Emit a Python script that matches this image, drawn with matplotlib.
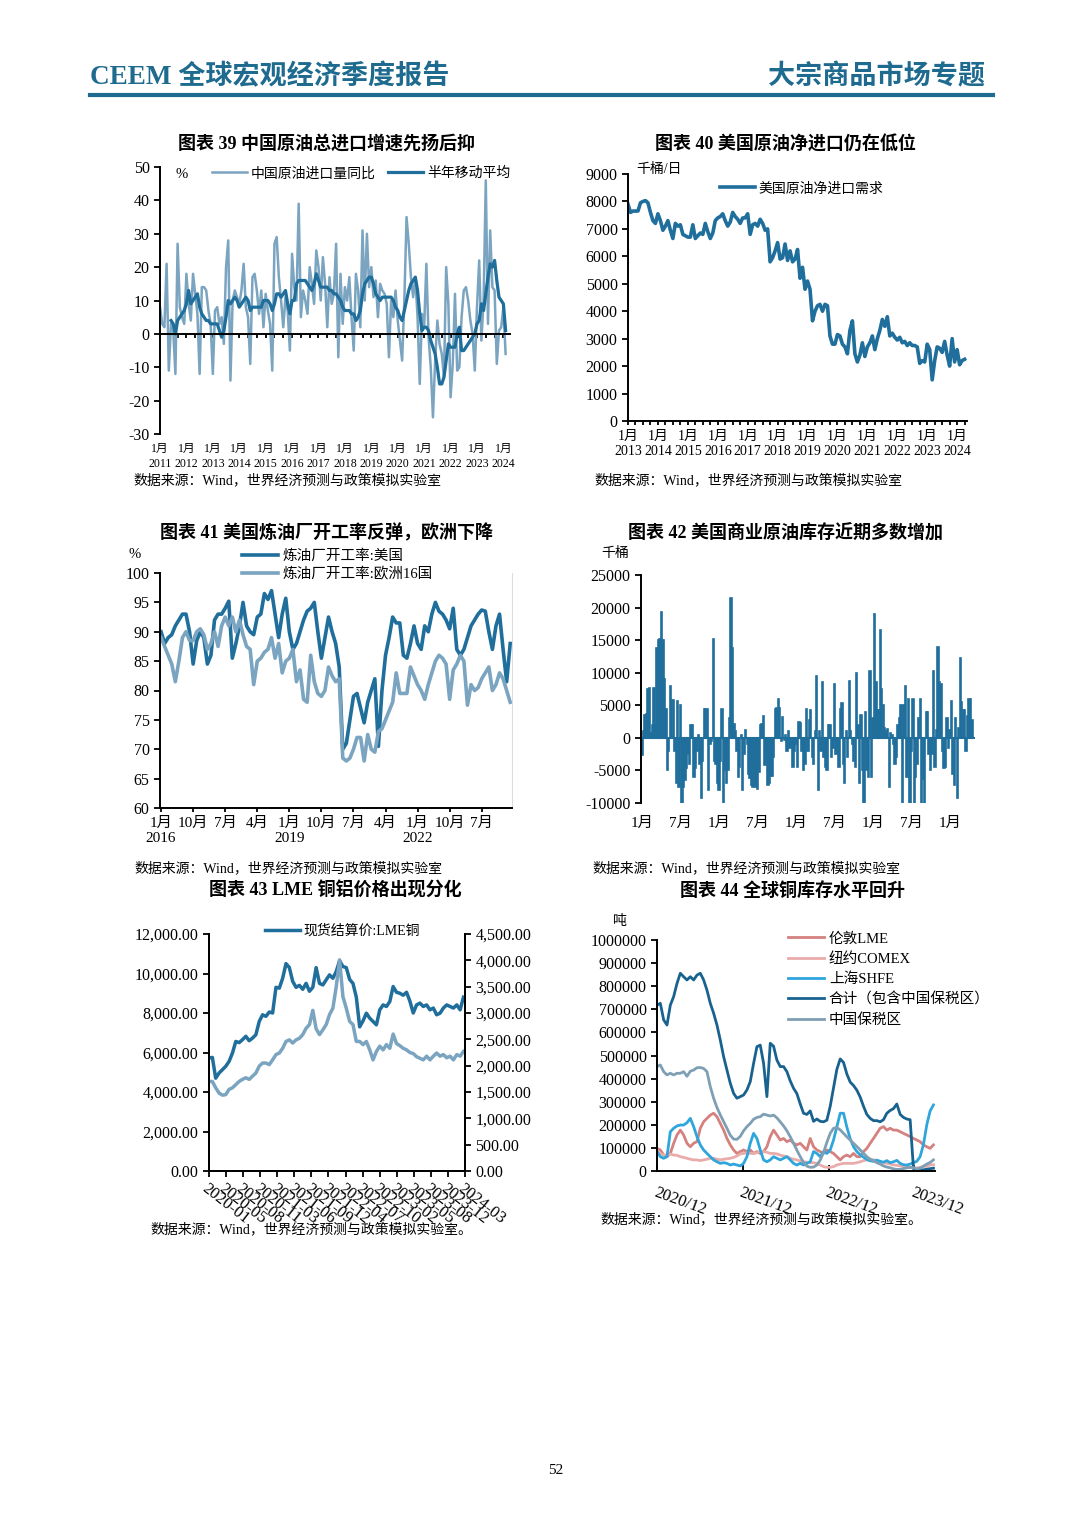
#!/usr/bin/env python3
"""CEEM quarterly report page 52 - commodity charts 39-44 (one page, six panels)."""

import numpy as np
import matplotlib
matplotlib.use('Agg')
import matplotlib.pyplot as plt
from matplotlib.lines import Line2D

plt.rcParams['font.family'] = ['Liberation Serif', 'Noto Sans CJK SC']
plt.rcParams['axes.unicode_minus'] = False

# ---------------- data ----------------
# Chart 39: China crude import yoy (%), monthly 2011-01 .. 2024-02
cn_import_yoy = [
    8, 3, 2, 21, -11, 3, 1, -12, 27, 8, 5, 3,
    18, 9, 4, 18, 12, 6, -12, 14, 14, 13, 7, 3,
    -12, 7, 8, 3, 5, -3, 20, 28, -14, 10, 13, 11,
    9, 13, 21, 8, 5, -9, 17, 18, 13, 6, 13, 2,
    12, 7, 3, -11, 27, 29, 17, 10, 2, 11, 7, -5,
    24, 14, 10, 39, 5, 13, 10, 6, 20, 15, 9, 25,
    20, 10, 23, 15, 2, 17, 9, 12, 27, -7, 18, 3,
    14, 10, 17, 5, -5, 18, 13, 2, 31, 10, 30, 14,
    20, 11, 16, 5, 15, 13, 12, 9, -7, 10, 5, 13,
    4, -2, -8, 10, 35, 27, 17, 11, 17, 5, -15, 6,
    2, 21, -1, -10, -25, -8, 4, -3, -6, -13, 20, 9,
    -19, -9, 12, -11, -10, 5, 13, 14, 10, 4, 0, -11,
    8, 22, -2, 10, 46, 3, 31, 14, 13, -9, 1, 2,
    8, -6,
]
# 6-month moving average, 2011-06 .. 2024-02
cn_import_ma6 = [
    4, 3, 0, 4, 5, 6, 7,
    9, 13, 9, 10, 11, 12, 8, 6, 5, 4, 4, 3,
    3, 3, 3, 1, -1, 1, 5, 10, 9, 10, 11, 10,
    8, 9, 10, 11, 10, 7, 8, 8, 8, 8, 8, 10,
    10, 10, 9, 7, 9, 12, 12, 11, 12, 13, 9, 6,
    10, 10, 15, 16, 16, 16, 16, 15, 14, 13, 15, 18,
    16, 14, 14, 14, 14, 13, 13, 12, 12, 11, 10, 8,
    7, 7, 7, 6, 6, 4, 5, 7, 12, 15, 16, 17,
    17, 15, 12, 11, 10, 11, 11, 11, 11, 11, 10, 8,
    7, 5, 4, 7, 10, 13, 15, 16, 17, 13, 6, 1,
    2, 2, 1, -2, -4, -6, -10, -15, -15, -13, -8, -3,
    -4, -4, -4, 0, 2, -5, -5, -4, -3, -2, -1, 0,
    3, 4, 9, 7, 12, 17, 21, 20, 22, 16, 11, 10,
    9, 1,
]
cn_years = list(range(2011, 2025))

# Chart 40: US crude net imports (kb/d), monthly 2013-01 .. 2024-04
us_net_import = [
    7900, 7600, 7650, 7650, 7650, 7950, 8000, 8030, 7950, 7600, 7300, 7200,
    7550, 7300, 6950, 7100, 7300, 6950, 6650, 7200, 7100, 7150, 6800, 6750,
    6700, 6700, 7150, 6650, 6750, 6850, 6800, 7200, 6900, 6650, 6850, 7300,
    7400, 7450, 7550, 7300, 7100, 7250, 7600, 7450, 7350, 7200, 7400, 7400,
    7550, 6800, 7150, 7200, 7100, 7350, 7200, 6950, 7000, 5800, 5950, 6200,
    6500, 5900, 5950, 6450, 5850, 6200, 5800, 5900, 6250, 5200, 5600, 4800,
    5100, 4800, 3650, 4000, 4200, 4250, 4000, 4250, 4200, 3100, 2800, 2800,
    3150, 3100, 2800, 2700, 2450, 3300, 3650, 2450, 2150, 2400, 2850, 2350,
    2700, 2850, 3100, 2600, 3000, 3300, 3700, 3450, 3800, 3100, 3200, 3050,
    2950, 3050, 2850, 2900, 2750, 2850, 2750, 2750, 2700, 2100, 2200, 2150,
    2800, 2600, 1500, 2200, 2700, 2650, 2500, 2900, 2400, 2000, 3000, 2150,
    2600, 2050, 2200, 2250,
]
us_years = list(range(2013, 2025))

# Chart 41: refinery utilisation (%), monthly 2016-01 .. 2024-03
util_us = [
    90, 88, 89, 89.5, 91, 92, 93, 93, 90, 84.5, 88.5, 90,
    89, 84.5, 86, 92, 93, 93, 94, 95.2, 85.5, 88, 91, 95,
    91, 90, 89.5, 92.5, 93, 96.5, 95.5, 97, 93, 89, 93, 95.7,
    90, 87, 88, 90, 92, 93.5, 94, 95, 90, 85.5, 89, 92.5,
    90, 88, 84, 70, 71, 75, 79, 79.5, 77, 74.5, 78, 80,
    82, 70.5, 80, 86, 89, 92.5, 91.5, 91.5, 86, 85.5, 88, 91,
    88, 87, 91, 90, 93, 95, 93.5, 93, 92, 90.5, 94, 87,
    86, 87, 89, 91, 92, 93, 93.7, 93.5, 90, 87, 91, 93,
    87, 81.5, 88,
]
util_eu = [
    89, 87.5, 86, 84.5, 81.5, 85, 89, 90, 88.5, 88.5, 90, 90.5,
    89.5, 87, 88, 90, 87.5, 91, 92.5, 91, 92.5, 90, 92, 89.5,
    87.5, 87, 81, 85, 85.5, 86.5, 87, 89, 85.5, 88, 83, 85,
    85.5, 87, 81.5, 83.5, 78.5, 78, 86, 81.5, 79.5, 79, 80, 84,
    82.5, 81.5, 82, 68.5, 68, 68.5, 70, 72, 72, 68, 72.5, 70,
    69.5, 73, 73.5, 75, 76.5, 78, 83, 79.5, 79.5, 79.5, 84, 82.5,
    81, 80, 78.5, 81, 83, 85, 86, 85.5, 84.5, 78.5, 83.5, 84.5,
    86, 85, 77.5, 81, 80, 80.5, 82, 83, 84, 80, 81, 83,
    82, 80, 78,
]
util_tick_labels = ['1月\n2016', '10月', '7月', '4月', '1月\n2019', '10月',
                    '7月', '4月', '1月\n2022', '10月', '7月']

# Chart 42: weekly change of US commercial crude stocks (kb), 2020-01 onwards
stock_change = [
    -2700, 1000, 3500, 3600, 7500, 7600, 700, 2000, 7700, 2000, 13800, 15000, 15200,
    19300, 15000, 9000, 4500, -5000, -2000, 8000, 5800, 5800, -2000, -7000, 5600, -7500,
    5000, -10000, -7500, -6500, -4700, -2500, -4000, 2000, 2000, -6000, -4700, -2000, 500,
    -4000, -9300, -3500, 4400, 4400, 4400, -8000, -1000, -500, 15200, -3500, -4000, -7000,
    -8000, -3500, 4500, -10000, -5000, -7000, -5000, 3000, 21500, 13800, 2200, 1000, -2000,
    -6000, -4500, 500, -8000, -2500, 1200, -1000, -5500, -6200, -7300, -7600, -6400, -7500,
    -7900, -5300, 2000, 2200, 3300, -4200, -2500, -7300, -7000, -5800, -5800, -3000, 4500,
    4600, 6000, 4600, -500, 3200, -300, 500, -2000, 1000, -1500, -1300, -4500, -2000,
    -1000, -4500, 2500, 2300, -2000, -5000, -4000, 4400, -2000, 2800, 4300, -3000, -4000,
    1000, 9500, -8000, 1000, -2000, 8500, -3000, -4500, -5000, 2000, 2000, -3000, -1500,
    8300, -2500, -1500, -4500, 4400, 5400, -4000, -7000, 1000, -3000, 8800, 1000, -1000,
    -3500, -4500, 10000, 2000, -7000, 3500, -5000, -10000, 4000, -5000, -6000, 10300, -6000,
    3000, 19000, 8500, 4200, 4200, 16500, 7500, 5000, 1500, 1000, 1400, -7500, 700,
    500, -1000, -4000, -3000, 2000, 3000, 5000, -10000, 5000, 8000, -6000, 6000, -10000,
    -2000, 6000, -10000, -6000, -4000, 3000, 6000, -10000, -6300, -10000, 4000, 4000, -2500,
    -5000, -2500, 10300, -4500, 1200, 14000, 8500, 8300, -2000, -4700, -4500, 3000, -1500,
    1200, 5600, -5500, -7200, 3000, -9200, 1500, 12200, 5500, 4300, 4300, -2000, 3300,
    6000, 6000, 2800,
]
stock_tick_labels = ['1月', '7月'] * 4 + ['1月']

# Chart 43: LME spot settlement, 2020-01 .. 2024-03 (every ~2/3 month)
lme_copper = [
    5720, 5750, 4700, 4960, 5130, 5300, 5550, 5970, 6560, 6500,
    6650, 6820, 6600, 6730, 6900, 7570, 7910, 7830, 8050, 8000,
    9300, 9260, 9760, 10500, 10300, 9600, 9300, 9400, 9200, 9500,
    9100, 9300, 10300, 9500, 9420, 9680, 9930, 9760, 10100, 10650,
    10350, 10300, 9700, 9500, 8800, 7300, 7600, 7990, 7740, 7570,
    7400, 8160, 8410, 8330, 8580, 9340, 9050, 9000, 8900, 9050,
    8600, 8000, 8410, 8500, 8330, 8410, 8160, 8250, 7910, 7990,
    8250, 8410, 8330, 8250, 8410, 8160, 8800,
]
lme_aluminium = [
    1700, 1700, 1580, 1480, 1440, 1450, 1550, 1580, 1640, 1700,
    1740, 1770, 1740, 1800, 1860, 1990, 2050, 2050, 2020, 2110,
    2210, 2240, 2330, 2460, 2490, 2430, 2490, 2520, 2590, 2710,
    2780, 3050, 2700, 2590, 2680, 2780, 2970, 3090, 3500, 4010,
    3310, 3090, 2840, 2780, 2460, 2460, 2400, 2460, 2300, 2110,
    2270, 2370, 2300, 2400, 2330, 2600, 2420, 2380, 2330, 2300,
    2250, 2230, 2170, 2140, 2110, 2180, 2110, 2180, 2240, 2180,
    2210, 2150, 2180, 2110, 2210, 2180, 2270,
]
lme_dates = ['2020-01', '2020-05', '2020-08', '2020-11', '2021-03', '2021-06',
             '2021-09', '2021-12', '2022-04', '2022-07', '2022-10', '2023-02',
             '2023-05', '2023-08', '2023-12', '2024-03']

# Chart 44: global copper stocks (thousand tonnes), 2020/12 .. 2024/03, biweekly
cu_lme_kt = [
    98, 91, 69, 62, 76, 120, 156, 177, 156, 120, 105, 120, 127, 185, 213, 228, 242,
    250, 235, 206, 177, 141, 113, 91, 76, 84, 91, 84, 91, 76, 84, 76, 84, 105, 149,
    177, 156, 134, 141, 127, 134, 120, 113, 120, 105, 91, 141, 105, 91, 84, 76, 91,
    84, 76, 62, 48, 62, 69, 62, 76, 62, 62, 84, 98, 120, 141, 163, 185, 192, 177,
    185, 177, 177, 170, 163, 156, 149, 141, 134, 127, 113, 105, 98, 113,
]
cu_comex_kt = [
    84, 76, 69, 69, 74, 69, 68, 62, 59, 55, 51, 48, 48, 45, 48, 51, 55, 55, 51, 48,
    51, 53, 55, 59, 65, 74, 76, 79, 76, 76, 79, 84, 84, 81, 76, 76, 74, 69, 65, 62,
    55, 51, 48, 43, 40, 38, 36, 36, 33, 26, 19, 16, 16, 19, 26, 30, 33, 33, 33, 33,
    36, 40, 45, 48, 51, 48, 45, 40, 36, 33, 30, 26, 25, 22, 19, 16, 16, 13, 13, 16,
    19, 22, 26, 27,
]
cu_shfe_kt = [
    84, 62, 55, 62, 170, 185, 195, 199, 199, 209, 228, 192, 149, 113, 91, 76, 62,
    48, 40, 33, 36, 33, 26, 30, 26, 22, 33, 62, 120, 163, 141, 91, 48, 40, 48, 62,
    55, 48, 55, 62, 48, 33, 26, 33, 26, 33, 40, 84, 76, 62, 84, 76, 91, 134, 192,
    250, 250, 190, 140, 105, 84, 70, 60, 50, 44, 42, 47, 42, 38, 45, 36, 40, 46,
    33, 27, 26, 30, 36, 42, 62, 115, 200, 260, 286,
]
cu_total_kt = [
    718, 726, 654, 632, 718, 755, 812, 856, 841, 827, 841, 827, 848, 856, 827, 783,
    726, 683, 632, 567, 495, 437, 380, 336, 315, 322, 329, 351, 387, 466, 538, 545,
    466, 322, 553, 540, 480, 452, 452, 430, 390, 358, 335, 290, 250, 245, 260, 215,
    225, 215, 213, 220, 280, 360, 440, 485, 470, 420, 385, 370, 350, 320, 280, 245,
    228, 218, 218, 213, 222, 250, 262, 270, 290, 245, 232, 225, 222, 10, 5, 5, 5, 8,
    10, 12,
]
cu_bonded_kt = [
    452, 459, 430, 416, 423, 416, 423, 423, 430, 410, 432, 437, 447, 448, 444, 430,
    365, 315, 275, 243, 214, 185, 155, 138, 137, 150, 174, 192, 206, 224, 232, 235,
    246, 242, 238, 242, 230, 213, 195, 174, 148, 120, 90, 62, 37, 21, 16, 17, 26, 47,
    80, 124, 163, 185, 188, 178, 163, 148, 134, 120, 106, 91, 77, 62, 51, 44, 36, 30,
    22, 17, 14, 9, 7, 7, 10, 14, 16, 14, 9, 12, 21, 30, 37, 48,
]
cu_tick_labels = ['2020/12', '2021/12', '2022/12', '2023/12']

SOURCE = '数据来源：Wind，世界经济预测与政策模拟实验室'

# ---------------- page layout ----------------
W, H = 1080, 1527
DARK = '#1f6e9c'
LIGHT = '#7aa4c0'
HEAD = '#1f6b8f'

fig = plt.figure(figsize=(W / 100, H / 100), dpi=100)


def rect(x0, y0, x1, y1):
    # pixel box (top-left origin) -> figure fraction
    return [x0 / W, 1 - y1 / H, (x1 - x0) / W, (y1 - y0) / H]


def ftext(x, y, s, **kw):
    kw.setdefault('va', 'center')
    fig.text(x / W, 1 - y / H, s, **kw)


def style(ax, spines=('left',)):
    for k in ['top', 'right', 'bottom', 'left']:
        ax.spines[k].set_visible(k in spines)
        ax.spines[k].set_linewidth(1.4)
    ax.tick_params(labelsize=11.5, width=1.3, length=4, colors='black')


def legend_at(ax, x, y, **kw):
    kw.setdefault('fontsize', 10)
    return ax.legend(loc='upper left', bbox_to_anchor=(x / W, 1 - y / H),
                     bbox_transform=fig.transFigure, frameon=False,
                     borderpad=0, borderaxespad=0, handlelength=2.5,
                     handletextpad=0.3, **kw)


# header
ftext(90, 77, 'CEEM 全球宏观经济季度报告', fontsize=19.5, fontweight='bold', color=HEAD)
ftext(985, 77, '大宗商品市场专题', fontsize=19.5, fontweight='bold', color=HEAD, ha='right')
fig.add_artist(Line2D([90 / W, 993 / W], [1 - 95 / H] * 2, lw=3, color=HEAD))
ftext(556, 1470, '52', fontsize=11, ha='center')

# 1. Chart 39 - China crude imports
ftext(327, 144, '图表 39 中国原油总进口增速先扬后抑', fontsize=13, fontweight='bold', ha='center')
ax1 = fig.add_axes(rect(160, 167, 510, 434))
m1 = np.arange(len(cn_import_yoy))
ax1.plot(m1, cn_import_yoy, color=LIGHT, lw=1.8, label='中国原油进口量同比')
ax1.plot(m1[-len(cn_import_ma6):], cn_import_ma6, color=DARK, lw=2.3, label='半年移动平均')
style(ax1, ('left', 'bottom'))
ax1.spines['bottom'].set_position(('data', 0))
ax1.set_xlim(0, 159)
ax1.set_ylim(-30, 50)
ax1.set_yticks(range(-30, 51, 10))
ax1.set_xticks(np.arange(0, 159, 4), labels=[])
ax1.tick_params(axis='x', length=3)
for i, yr in enumerate(cn_years):
    ax1.text(12 * i, -0.035, f'1月\n{yr}', transform=ax1.get_xaxis_transform(),
             ha='center', va='top', fontsize=8.5, linespacing=1.35)
ftext(175, 175, '%', fontsize=10.5)
legend_at(ax1, 212, 167, ncol=2, columnspacing=0.9)
ftext(133, 480, SOURCE, fontsize=10)

# 2. Chart 40 - US net crude imports
ftext(785, 144, '图表 40 美国原油净进口仍在低位', fontsize=13, fontweight='bold', ha='center')
ax2 = fig.add_axes(rect(628, 174, 967, 421))
x2 = us_years[0] + np.arange(len(us_net_import)) / 12
ax2.plot(x2, us_net_import, color=DARK, lw=2.6, label='美国原油净进口需求')
style(ax2, ('left', 'bottom'))
ax2.set_xlim(2013, 2024.33)
ax2.set_ylim(0, 9000)
ax2.set_yticks(range(0, 9001, 1000))
ax2.set_xticks(us_years, labels=[f'1月\n{y}' for y in us_years])
ax2.set_xticks(np.arange(2013, 2024.4, 0.25), minor=True)
ax2.tick_params(axis='x', which='both', labelsize=10, length=3, width=1.3)
ftext(636, 170, '千桶/日', fontsize=10)
legend_at(ax2, 720, 182)
ftext(594, 480, SOURCE, fontsize=10)

# 3. Chart 41 - refinery utilisation
ftext(327, 533, '图表 41 美国炼油厂开工率反弹，欧洲下降', fontsize=13, fontweight='bold', ha='center')
ax3 = fig.add_axes(rect(160, 573, 512, 808))
m3 = np.arange(len(util_us))
ax3.plot(m3, util_us, color=DARK, lw=2.6, label='炼油厂开工率:美国')
ax3.plot(m3, util_eu, color=LIGHT, lw=2.6, label='炼油厂开工率:欧洲16国')
style(ax3, ('left', 'bottom', 'right'))
ax3.spines['right'].set_color('#dddddd')
ax3.spines['right'].set_linewidth(0.8)
ax3.set_xlim(-0.3, 98.5)
ax3.set_ylim(60, 100)
ax3.set_yticks(range(60, 101, 5))
ax3.set_xticks(np.arange(0, 91, 9), labels=util_tick_labels)
ax3.tick_params(axis='x', labelsize=11, length=3)
ftext(135, 555, '%', fontsize=10.5, ha='center')
legend_at(ax3, 242, 549, labelspacing=0.3, fontsize=10.5)
ftext(134, 868, SOURCE, fontsize=10)

# 4. Chart 42 - US commercial crude stock changes
ftext(785, 533, '图表 42 美国商业原油库存近期多数增加', fontsize=13, fontweight='bold', ha='center')
ax4 = fig.add_axes(rect(641, 575, 975, 803))
ax4.bar(np.arange(len(stock_change)), stock_change, width=0.9, color=DARK,
        edgecolor=DARK, linewidth=1.2)
ax4.axhline(0, color=DARK, lw=1.5)
style(ax4, ('left',))
ax4.set_xlim(-0.8, 225)
ax4.set_ylim(-10000, 25000)
ax4.set_yticks(range(-10000, 25001, 5000))
ax4.set_xticks(np.arange(0, 209, 26), labels=stock_tick_labels)
ax4.tick_params(axis='x', length=0, pad=10, labelsize=11)
ftext(615, 553, '千桶', fontsize=10, ha='center')
ftext(592, 868, SOURCE, fontsize=10)

# 5. Chart 43 - LME copper & aluminium
ftext(335, 891, '图表 43 LME 铜铝价格出现分化', fontsize=13, fontweight='bold', ha='center')
ax5 = fig.add_axes(rect(209, 934, 465, 1171))
x5 = np.linspace(0, 49.7, len(lme_copper))
ax5.plot(x5, lme_copper, color=DARK, lw=2.5, label='现货结算价:LME铜')
ax5b = ax5.twinx()
ax5b.plot(x5, lme_aluminium, color=LIGHT, lw=2.5)
style(ax5, ('left', 'bottom', 'right'))
style(ax5b, ('left', 'bottom', 'right'))
ax5.set_xlim(0, 50)
ax5.set_ylim(0, 12000)
yt = np.arange(0, 12001, 2000)
ax5.set_yticks(yt, labels=[f'{t:,.2f}' for t in yt])
ax5b.set_ylim(0, 4500)
yt = np.arange(0, 4501, 500)
ax5b.set_yticks(yt, labels=[f'{t:,.2f}' for t in yt])
ax5.set_xticks(np.linspace(0, 50, len(lme_dates)))
ax5.set_xticklabels(lme_dates, rotation=-38, ha='left', va='top', rotation_mode='anchor')
ax5.tick_params(axis='x', labelsize=12, length=4, pad=3)
legend_at(ax5, 265, 924)
ftext(150, 1229, SOURCE + '。', fontsize=10)

# 6. Chart 44 - global copper stocks
ftext(792, 891, '图表 44 全球铜库存水平回升', fontsize=13, fontweight='bold', ha='center')
ax6 = fig.add_axes(rect(657, 940, 935, 1171))
x6 = np.linspace(0, 3.222, len(cu_total_kt))
series6 = [
    (cu_lme_kt, '伦敦LME', '#d4817f'),
    (cu_comex_kt, '纽约COMEX', '#eaabab'),
    (cu_shfe_kt, '上海SHFE', '#2ea6db'),
    (cu_total_kt, '合计（包含中国保税区）', '#17628f'),
    (cu_bonded_kt, '中国保税区', '#7e9fb4'),
]
for vals, name, col in series6:
    ax6.plot(x6, np.array(vals) * 1000, color=col, lw=2.0, label=name)
style(ax6, ('left', 'bottom'))
ax6.set_xlim(0, 3.24)
ax6.set_ylim(0, 1000000)
yt = np.arange(0, 1000001, 100000)
ax6.set_yticks(yt, labels=[str(int(t)) for t in yt])
ax6.set_xticks(range(len(cu_tick_labels)))
ax6.set_xticklabels(cu_tick_labels, rotation=-20, ha='left', va='top', rotation_mode='anchor')
ax6.tick_params(axis='x', direction='in', labelsize=12, pad=10)
ftext(620, 922, '吨', fontsize=10, ha='center')
legend_at(ax6, 788, 932, labelspacing=0.45, fontsize=10.5)
ftext(600, 1219, SOURCE + '。', fontsize=10)

plt.savefig('out.png', dpi=100)
print('Saved out.png')
